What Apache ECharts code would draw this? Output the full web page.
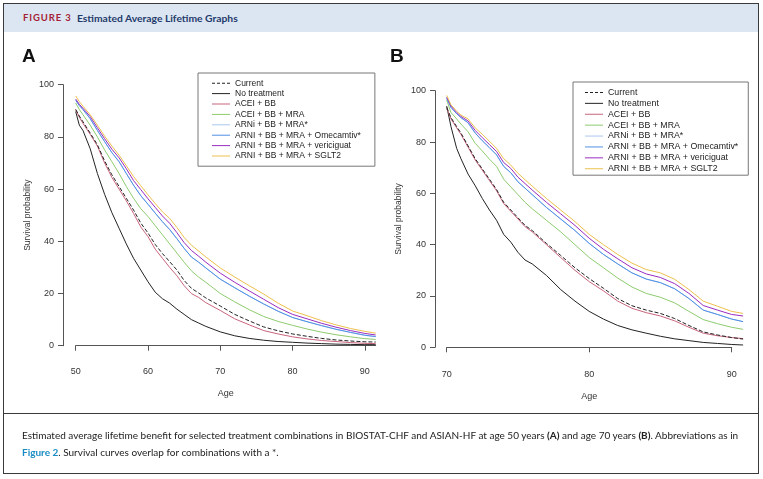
<!DOCTYPE html>
<html><head><meta charset="utf-8">
<script src="https://cdn.jsdelivr.net/npm/echarts@6/dist/echarts.min.js"></script>
<style>
html,body{margin:0;padding:0;background:#fff;width:763px;height:479px;overflow:hidden;}
#chart{position:absolute;left:0;top:0;width:763px;height:479px;}
#frame{position:absolute;left:3px;top:3px;width:756px;height:471px;border:1.5px solid #3a3a3a;box-sizing:border-box;z-index:2;pointer-events:none;}
#head{position:absolute;left:4px;top:4px;width:754px;height:28px;background:#DCE6F2;z-index:1;}
#head .fig{position:absolute;left:19px;top:8px;font:bold 9.5px Lato,'Open Sans',sans-serif;color:#A51E36;letter-spacing:0.9px;}
#head .ttl{position:absolute;left:73px;top:7.5px;font:bold 10.3px Lato,'Open Sans',sans-serif;color:#1F3A6B;}
.panel{position:absolute;font:bold 19px 'Liberation Sans',Arial,sans-serif;color:#111;z-index:1;}
#sep{position:absolute;left:3px;top:413px;width:756px;height:0;border-top:1.5px solid #3a3a3a;z-index:2;}
.cap{position:absolute;left:22px;font:10px Lato,'Open Sans',sans-serif;color:#222;white-space:nowrap;z-index:1;}
.cap b{font-weight:bold;}
.cap .lnk{color:#1A8CC4;font-weight:bold;}
</style>
</head><body>
<div id="chart"></div>
<div id="frame"></div>
<div id="head"><span class="fig">FIGURE 3</span><span class="ttl">Estimated Average Lifetime Graphs</span></div>
<div class="panel" style="left:22px;top:45px;">A</div>
<div class="panel" style="left:390px;top:45px;">B</div>
<div id="sep"></div>
<div class="cap" style="top:429px;">Estimated average lifetime benefit for selected treatment combinations in BIOSTAT-CHF and ASIAN-HF at age 50 years <b>(A)</b> and age 70 years <b>(B)</b>. Abbreviations as in</div>
<div class="cap" style="top:446px;"><span class="lnk">Figure 2</span>. Survival curves overlap for combinations with a *.</div>
<script>
// ---------- Panel A (age 50) ----------
var ageA = [50, 50.5, 51, 52, 53, 54, 55, 56, 57, 58, 59, 60, 61, 62, 63, 64, 65, 66, 67, 68, 70, 72, 74, 76, 78, 80, 82, 84, 86, 88, 90, 91.5];
var currentA   = [90.5, 88, 85.8, 81.5, 77, 70.8, 65.5, 61, 56.5, 52, 47, 43.2, 38.8, 35.3, 32.2, 29, 25, 22, 20.2, 18.3, 15.2, 12, 9.5, 7.2, 5.7, 4.5, 3.6, 2.8, 2.2, 1.8, 1.5, 1.4];
var noTreatA   = [89.7, 84.5, 82.5, 75.5, 66, 58, 51, 45, 39, 33.5, 29, 24.5, 20.5, 18, 16.3, 14, 12, 10, 8.7, 7.4, 5.3, 3.8, 2.8, 2.1, 1.6, 1.3, 1.0, 0.8, 0.6, 0.5, 0.4, 0.4];
var aceiBbA    = [90.5, 87.5, 85.2, 81, 76.5, 70, 64.5, 60, 55.5, 50.7, 45.5, 41.8, 37, 33.5, 30, 26.8, 23, 20, 18.5, 16.5, 13.5, 10.3, 8, 5.8, 4.5, 3.4, 2.6, 2, 1.6, 1.2, 0.9, 0.8];
var aceiMraA   = [93, 90.5, 88.5, 84.5, 80, 75, 70.5, 66, 61, 56.5, 52.5, 49.5, 46, 42.5, 39, 35.5, 32, 28.7, 26.3, 24.3, 20, 16.8, 13.8, 11.2, 9.3, 7.8, 6.4, 5.2, 4.2, 3.4, 2.7, 2.4];
var arniMraA   = [94, 92, 90.5, 87, 82.5, 78.2, 74, 70.5, 66, 61.5, 57.5, 54.2, 50.8, 47.5, 44.5, 41, 37.3, 34, 32, 29.8, 25.5, 22.2, 19, 16, 13.2, 10.8, 9.2, 7.7, 6.3, 5.1, 4, 3.5];
var omecamtivA = [94, 92, 90.5, 87, 82.5, 78.2, 74, 70.5, 66, 61.5, 57.5, 54.2, 50.8, 47.5, 44.5, 41, 37.3, 34, 32, 29.8, 25.5, 22.2, 19, 16, 13.2, 10.8, 9.2, 7.7, 6.3, 5.1, 4, 3.5];
var vericiA    = [94.5, 92.5, 91, 87.8, 83.5, 79.3, 75.3, 72, 67.8, 63.3, 59.8, 56.3, 53, 49.7, 46.9, 43.3, 39.5, 36.5, 34.3, 32, 27.8, 24.3, 21, 17.8, 14.6, 12, 10.3, 8.6, 7.1, 5.8, 4.7, 4.1];
var sglt2A     = [95.7, 93.5, 91.8, 88.5, 84.5, 80.3, 76.5, 73, 69, 64.8, 61.3, 57.8, 54.5, 51.3, 48.8, 45.3, 41.5, 38.5, 36.3, 34, 29.8, 26.3, 23, 19.8, 16.3, 13.3, 11.5, 9.6, 8, 6.6, 5.5, 4.8];

// ---------- Panel B (age 70) ----------
var ageB = [70, 70.3, 70.7, 71, 71.5, 72, 72.5, 73, 73.5, 74, 74.5, 75, 75.5, 76, 77, 78, 79, 80, 81, 82, 83, 84, 85, 86, 87, 88, 89, 90, 90.8];
var currentB   = [93.5, 89.5, 86, 83.5, 78.5, 73.5, 69.5, 65.5, 61.5, 56.5, 53.5, 50.5, 47.5, 45.5, 40.5, 35.8, 31, 26.8, 23, 19, 16.2, 14.5, 13.2, 11.2, 8.5, 6, 4.8, 3.8, 3.2];
var noTreatB   = [94, 86, 77.5, 73.5, 67.5, 63, 58, 53.5, 49.5, 44, 41, 37, 34, 32.5, 28, 22.5, 18, 14, 11, 8.5, 6.8, 5.5, 4.3, 3.3, 2.6, 1.9, 1.5, 1.1, 0.9];
var aceiBbB    = [93, 89, 85.5, 83, 78, 73, 69, 65, 61, 56, 53, 50, 47, 45, 40, 35, 30, 25.6, 22, 18, 15.2, 13.5, 12.2, 10.3, 7.8, 5.5, 4.5, 3.8, 3.4];
var aceiMraB   = [96.4, 91.5, 89, 87, 84, 79.5, 76.5, 73.3, 70.5, 65.5, 62.5, 59.5, 56.5, 54, 49.5, 45, 40, 35, 31, 27, 23.5, 21, 19.5, 17.3, 14, 10.8, 9.2, 7.8, 7];
var arniMraB   = [97, 93.5, 91, 89.5, 87.5, 83.5, 80.5, 77.8, 75, 70.5, 68, 64.5, 62, 59.5, 54.5, 50, 45.5, 40.5, 36.2, 32.5, 29, 26.6, 25.2, 22.8, 19, 14.5, 12.8, 11, 10];
var omecamtivB = [97, 93.5, 91, 89.5, 87.5, 83.5, 80.5, 77.8, 75, 70.5, 68, 64.5, 62, 59.5, 54.5, 50, 45.5, 40.5, 36.2, 32.5, 29, 26.6, 25.2, 22.8, 19, 14.5, 12.8, 11, 10];
var vericiB    = [97.5, 94, 91.5, 90, 88.2, 84.5, 81.7, 79, 76.3, 72, 69.7, 66.3, 63.8, 61.3, 56.5, 52, 47.5, 42.5, 38.2, 34.5, 31, 28.6, 27.2, 24.8, 21, 16.3, 14.5, 12.8, 12.2];
var sglt2B     = [98.2, 94.5, 92, 90.5, 89, 85.5, 83, 80.3, 77.5, 73.5, 71, 67.8, 65.3, 62.8, 58, 53.5, 49, 44, 40, 36.2, 32.8, 30.3, 29, 26.5, 22.5, 18, 16, 14, 13.2];

var seriesNames = ['Current', 'No treatment', 'ACEI + BB', 'ACEI + BB + MRA', 'ARNi + BB + MRA*', 'ARNI + BB + MRA + Omecamtiv*', 'ARNI + BB + MRA + vericiguat', 'ARNI + BB + MRA + SGLT2'];
var xTicksA = [50, 60, 70, 80, 90];
var xTicksB = [70, 80, 90];

var colors = ['#222222', '#222222', '#C8647C', '#8DCB6E', '#A9C7EE', '#4F8FE4', '#9A2CC0', '#EDC04E'];
var dashes = ['dashed', 'solid', 'solid', 'solid', 'solid', 'solid', 'solid', 'solid'];
var setsA = [currentA, noTreatA, aceiBbA, aceiMraA, arniMraA, omecamtivA, vericiA, sglt2A];
var setsB = [currentB, noTreatB, aceiBbB, aceiMraB, arniMraB, omecamtivB, vericiB, sglt2B];

var solidIcon = 'path://M0,0H18V1H0Z';
var dashIcon = 'path://M0,0H3V1H0Z M5,0H8V1H5Z M10,0H13V1H10Z M15,0H18V1H15Z';

function pair(ages, vals) { return ages.map(function (a, i) { return [a, vals[i]]; }); }

var series = [];
var order = [1, 2, 3, 4, 5, 6, 7, 0];
order.forEach(function (k) {
  series.push({ name: seriesNames[k], type: 'line', xAxisIndex: 0, yAxisIndex: 0, data: pair(ageA, setsA[k]),
    showSymbol: false, symbol: 'none', color: colors[k], lineStyle: { width: 1, color: colors[k], type: dashes[k] }, z: 2 });
  series.push({ name: seriesNames[k], type: 'line', xAxisIndex: 1, yAxisIndex: 1, data: pair(ageB, setsB[k]),
    showSymbol: false, symbol: 'none', color: colors[k], lineStyle: { width: 1, color: colors[k], type: dashes[k] }, z: 2 });
});

var axisCol = '#555';
var font = "'Liberation Sans', Arial, sans-serif";
function yAx(grid, off, gap, show) {
  return { gridIndex: grid, type: 'value', min: 0, max: 100, interval: 20, offset: off, show: show,
    axisLine: { show: true, lineStyle: { color: axisCol, width: 1 } },
    axisTick: { show: true, length: 5, lineStyle: { color: axisCol } },
    axisLabel: { margin: 9, color: '#333', fontSize: 9, fontFamily: font },
    splitLine: { show: false },
    name: 'Survival probability', nameLocation: 'middle', nameGap: gap, nameRotate: 90,
    nameTextStyle: { color: '#333', fontSize: 8.5, fontFamily: font } };
}
function xAx(grid, mn, mx, off, ticks, gap, show, margin) {
  return { gridIndex: grid, type: 'value', min: mn, max: mx, offset: off, show: show,
    axisLine: { show: true, lineStyle: { color: axisCol, width: 1 } },
    axisTick: { show: true, length: 5, customValues: ticks, lineStyle: { color: axisCol } },
    axisLabel: { margin: margin, color: '#333', fontSize: 9, fontFamily: font, customValues: ticks },
    splitLine: { show: false },
    name: 'Age', nameLocation: 'middle', nameGap: gap,
    nameTextStyle: { color: '#333', fontSize: 9, fontFamily: font } };
}

function legendAt(left, top, fs, lh, padL, padR, padB) {
  return { orient: 'vertical', left: left, top: top,
    data: seriesNames.map(function (n, i) { return { name: n, icon: i === 0 ? dashIcon : solidIcon }; }),
    itemWidth: 18, itemHeight: 1, itemGap: 0, selectedMode: false,
    textStyle: { fontSize: fs, lineHeight: lh, color: '#222', fontFamily: font },
    borderColor: '#777', borderWidth: 1, padding: [5, padR, padB, padL], backgroundColor: '#fff' };
}

var chart = echarts.init(document.getElementById('chart'), null, { renderer: 'canvas' });
chart.setOption({
  animation: false,
  backgroundColor: '#fff',
  grid: [
    { left: 75.7, top: 84.7, width: 300, height: 261 },
    { left: 446.7, top: 90.7, width: 296.4, height: 256.6 },
    { left: 446.7, top: 90.7, width: 285, height: 256.6 }
  ],
  xAxis: [
    xAx(0, 50, 91.5, 11.3, xTicksA, 32, true, 10),
    { gridIndex: 1, type: 'value', min: 70, max: 90.8, show: false },
    xAx(2, 70, 90, 10.7, xTicksB, 34, true, 12)
  ],
  yAxis: [
    yAx(0, 12.7, 31, true),
    yAx(1, 11.7, 32, true),
    { gridIndex: 2, type: 'value', min: 0, max: 100, show: false }
  ],
  legend: [legendAt(198, 73, 8.5, 10.4, 14, 14, 5), legendAt(573, 82, 8.8, 10.9, 12, 10, 1)],
  series: series
});
</script>
</body></html>
